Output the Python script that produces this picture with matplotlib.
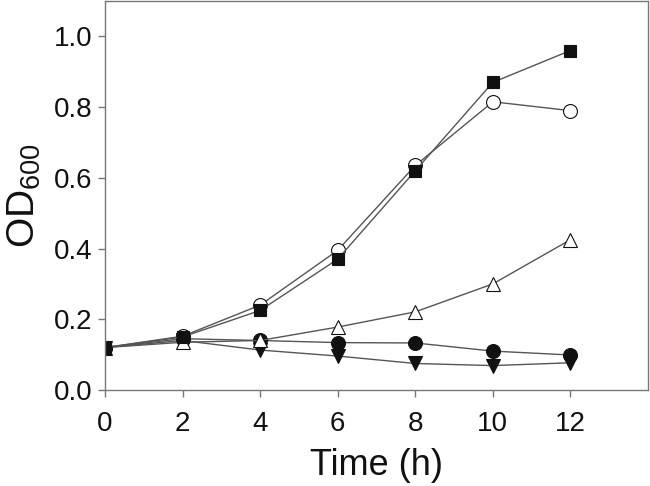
import matplotlib
matplotlib.use("Agg")
import matplotlib.pyplot as plt

plt.rcParams["font.family"] = ["Liberation Sans", "DejaVu Sans"]
plt.rcParams["mathtext.fontset"] = "custom"
plt.rcParams["mathtext.rm"] = "Liberation Sans"

# data
time_h = [0, 2, 4, 6, 8, 10, 12]
filled_square = [0.120, 0.150, 0.225, 0.370, 0.620, 0.870, 0.960]
open_circle = [0.120, 0.152, 0.240, 0.395, 0.635, 0.815, 0.790]
open_triangle = [0.120, 0.135, 0.140, 0.178, 0.221, 0.300, 0.425]
filled_circle = [0.120, 0.145, 0.140, 0.134, 0.133, 0.110, 0.099]
filled_tri_down = [0.120, 0.140, 0.113, 0.096, 0.075, 0.069, 0.077]

x_ticks = [0, 2, 4, 6, 8, 10, 12]
y_ticks = [0.0, 0.2, 0.4, 0.6, 0.8, 1.0]

fig = plt.figure(figsize=(6.5, 4.86), dpi=100)
ax = fig.add_axes([105 / 650, 1 - 390 / 486, 543 / 650, 389 / 486])

line_kw = dict(color="#555555", linewidth=1.0, markersize=10,
               markeredgecolor="#111111", markeredgewidth=0.8)

ax.plot(time_h, filled_tri_down, marker="v", markerfacecolor="#111111", **line_kw)
ax.plot(time_h, filled_circle, marker="o", markerfacecolor="#111111", **line_kw)
ax.plot(time_h, open_triangle, marker="^", markerfacecolor="white", **line_kw)
ax.plot(time_h, open_circle, marker="o", markerfacecolor="white", **line_kw)
ax.plot(time_h, filled_square, marker="s", markerfacecolor="#111111",
        **{**line_kw, "markersize": 9})

ax.set_xlim(0, 14)
ax.set_ylim(0, 1.1)
ax.set_xticks(x_ticks)
ax.set_yticks(y_ticks)
ax.set_yticklabels([f"{v:.1f}" for v in y_ticks])

for s in ax.spines.values():
    s.set_color("#777777")
    s.set_linewidth(1.0)
ax.tick_params(colors="#777777", labelcolor="#111111", labelsize=20,
               length=5, width=1.0, direction="out")
ax.tick_params(axis="x", pad=10)
ax.tick_params(axis="y", pad=4)

ax.set_xlabel("Time (h)", fontsize=26, color="#111111", labelpad=8)
ax.set_ylabel(r"OD$_{\mathrm{600}}$", fontsize=28, color="#111111", labelpad=8)

plt.savefig("out.png", dpi=100)
